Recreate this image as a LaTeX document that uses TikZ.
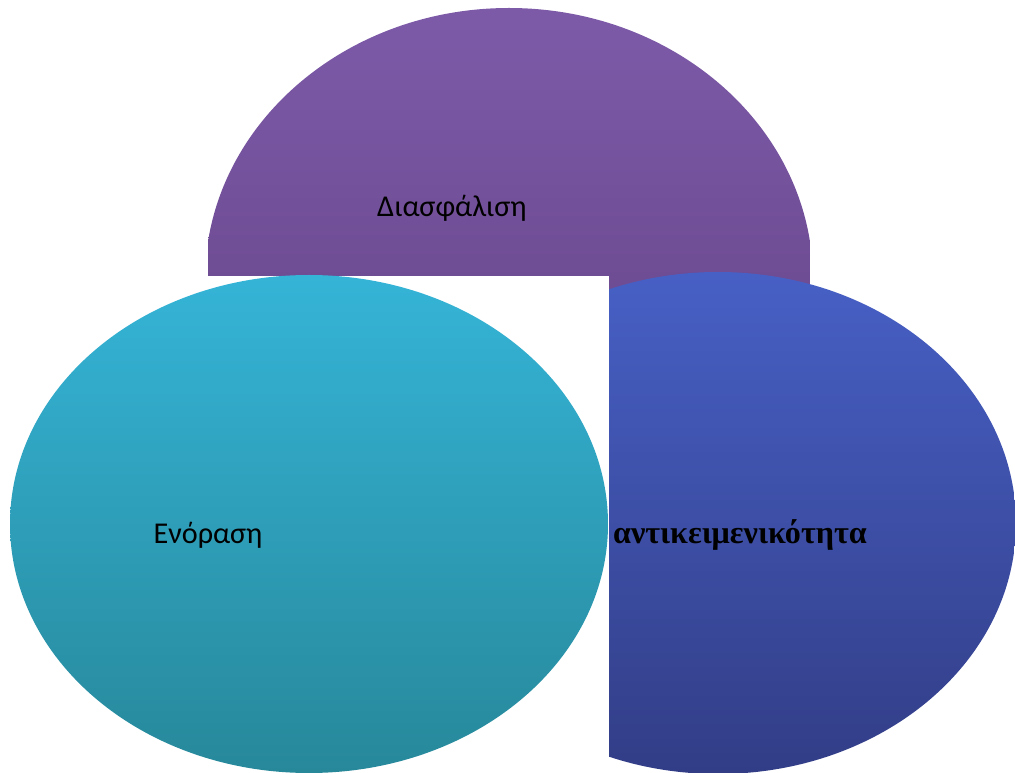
\documentclass[tikz,border=0pt]{standalone}
\usepackage{fontspec}
\setmainfont{Liberation Serif}
\newfontfamily\labelfont{Carlito}
\usepackage{tikz}

\definecolor{purpleTop}{HTML}{7E5BA9}
\definecolor{purpleBot}{HTML}{6E4C93}
\definecolor{cyanTop}{HTML}{35B4D7}
\definecolor{cyanBot}{HTML}{27889A}
\definecolor{blueTop}{HTML}{4760C5}
\definecolor{blueBot}{HTML}{323D86}

\begin{document}
\begin{tikzpicture}[x=0.02cm, y=-0.02cm, every node/.style={font=\labelfont\fontsize{17.2}{20}\selectfont}]
	\useasboundingbox (0,0) rectangle (1015,773);
	% top half-ellipse
	\begin{scope}
		\clip (208,0) -- (810,0) -- (810,300) -- (609,300) -- (609,276) -- (208,276) -- cycle;
		\clip (509,280) ellipse (304 and 272);
		\shade[top color=purpleTop, bottom color=purpleBot] (208,0) rectangle (810,300);
	\end{scope}
	% left ellipse
	\shade[top color=cyanTop, bottom color=cyanBot] (309,524) ellipse (299 and 249);
	% right ellipse, cut on its left
	\begin{scope}
		\clip (609,0) rectangle (1015,773);
		\shade[top color=blueTop, bottom color=blueBot] (718,523) ellipse (298 and 251);
	\end{scope}
	\node (safety) at (452,208) {Διασφάλιση};
	\node (insight) at (208,535) {Ενόραση};
	\node[font=\rmfamily\bfseries\fontsize{18.3}{21}\selectfont] (objectivity) at (740,535) {αντικειμενικότητα};
\end{tikzpicture}
\end{document}
